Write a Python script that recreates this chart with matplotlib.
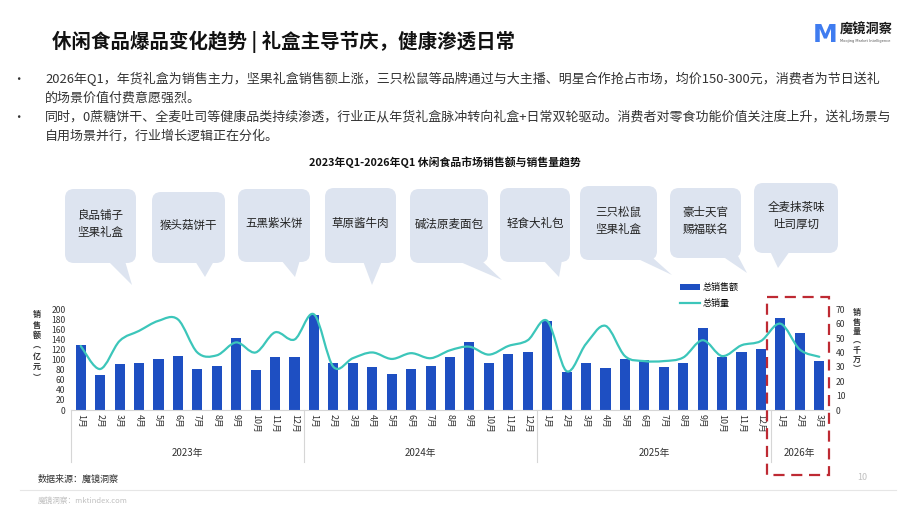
import numpy as np
import matplotlib.pyplot as plt
from matplotlib.path import Path
from matplotlib.patches import PathPatch, FancyBboxPatch, Polygon, Rectangle
from matplotlib.lines import Line2D

plt.rcParams['font.family'] = ['Noto Sans CJK SC', 'DejaVu Sans']

# ---- data ----
years = ['2023年', '2024年', '2025年', '2026年']
months_per_year = [12, 12, 12, 3]
month_labels = [f'{m}月' for n in months_per_year for m in range(1, n + 1)]

# 总销售额 (亿元)
sales = [129, 70, 91, 93, 101, 107, 81, 87, 143, 79, 105, 105,
         189, 93, 93, 85, 71, 81, 87, 105, 135, 93, 111, 115,
         177, 75, 93, 83, 101, 99, 85, 93, 163, 105, 115, 121,
         183, 153, 97]

# 总销量 (千万)
volume = [44.5, 28.5, 48, 55, 62, 63, 40, 38, 47, 40, 54, 49,
          66.5, 30, 36, 40, 35.5, 39.5, 36, 41.5, 44, 38.5, 44.5, 48.5,
          62, 27, 46, 58.5, 37.5, 34, 34, 36.5, 48.5, 37.5, 45, 48,
          60, 42, 37]

bubble_texts = ['良品铺子\n坚果礼盒', '猴头菇饼干', '五黑紫米饼', '草原酱牛肉', '碱法原麦面包',
                '轻食大礼包', '三只松鼠\n坚果礼盒', '豪士天官\n赐福联名', '全麦抹茶味\n吐司厚切']

title = '休闲食品爆品变化趋势 | 礼盒主导节庆，健康渗透日常'
bullet_lines = [
    '2026年Q1，年货礼盒为销售主力，坚果礼盒销售额上涨，三只松鼠等品牌通过与大主播、明星合作抢占市场，均价150-300元，消费者为节日送礼',
    '的场景价值付费意愿强烈。',
    '同时，0蔗糖饼干、全麦吐司等健康品类持续渗透，行业正从年货礼盒脉冲转向礼盒+日常双轮驱动。消费者对零食功能价值关注度上升，送礼场景与',
    '自用场景并行，行业增长逻辑正在分化。',
]
chart_title = '2023年Q1-2026年Q1 休闲食品市场销售额与销售量趋势'

BAR_COLOR = '#1E4FC2'
LINE_COLOR = '#3CC6BA'
GRID_GRAY = '#D6D6D6'

W, H = 916, 509
fig = plt.figure(figsize=(W / 100, H / 100), dpi=100)
fig.patch.set_facecolor('white')

# ---- main chart ----
ax = fig.add_axes([71 / W, (H - 410) / H, 758 / W, 100.7 / H])
x = np.arange(len(sales))
bars = ax.bar(x, sales, width=0.52, color=BAR_COLOR, zorder=2)
ax.set_xlim(-0.5, len(sales) - 0.5)
ax.set_ylim(0, 200)
ax.set_yticks(range(0, 201, 20))
ax.tick_params(axis='y', length=0, labelsize=6.2, pad=4, labelcolor='#333333')
ax.set_xticks(x)
ax.set_xticklabels(month_labels, rotation=270, fontsize=6.4, color='#333333')
ax.tick_params(axis='x', length=0, pad=3)
for s in ['top', 'left', 'right']:
    ax.spines[s].set_visible(False)
ax.spines['bottom'].set_color(GRID_GRAY)
ax.spines['bottom'].set_linewidth(0.8)

ax2 = ax.twinx()
ax2.set_ylim(0, 70)
ax2.set_yticks(range(0, 71, 10))
ax2.tick_params(axis='y', length=0, labelsize=6.2, pad=5, labelcolor='#333333')
for s in ['top', 'left', 'right', 'bottom']:
    ax2.spines[s].set_visible(False)

# smoothed line (Catmull-Rom -> cubic Bezier, like a spreadsheet smooth line)
pts = np.column_stack([x, volume]).astype(float)
verts = [pts[0]]
codes = [Path.MOVETO]
n = len(pts)
for i in range(n - 1):
    p0 = pts[max(i - 1, 0)]
    p1 = pts[i]
    p2 = pts[i + 1]
    p3 = pts[min(i + 2, n - 1)]
    c1 = p1 + (p2 - p0) / 6.0
    c2 = p2 - (p3 - p1) / 6.0
    verts += [c1, c2, p2]
    codes += [Path.CURVE4] * 3
ax2.add_patch(PathPatch(Path(verts, codes), facecolor='none', edgecolor=LINE_COLOR,
                        lw=1.6, zorder=3, capstyle='round', joinstyle='round'))

# year group separators and labels
xt = ax.get_xaxis_transform()
bounds = np.cumsum([0] + months_per_year) - 0.5
for b in bounds[:-1]:
    ax.plot([b, b], [0, -0.52], transform=xt, color=GRID_GRAY, lw=0.8, clip_on=False)
for yr, lo, hi in zip(years, bounds[:-1], bounds[1:]):
    ax.text((lo + hi) / 2, -0.43, yr, transform=xt, ha='center', va='center',
            fontsize=7, color='#333333')

# legend
ax.legend(handles=[bars, Line2D([], [], color=LINE_COLOR, lw=1.6)],
          labels=['总销售额', '总销量'], loc='upper left',
          bbox_to_anchor=(680 / W, (H - 283) / H), bbox_transform=fig.transFigure,
          frameon=False, fontsize=6.5, handlelength=2.2, handleheight=0.7,
          labelspacing=0.8, handletextpad=0.3, borderaxespad=0, borderpad=0)

# ---- overlay in pixel coordinates for page decorations ----
ov = fig.add_axes([0, 0, 1, 1])
ov.set_xlim(0, W)
ov.set_ylim(H, 0)
ov.axis('off')
ov.set_zorder(5)

ov.text(52, 42, title, fontsize=14, fontweight='bold', color='#111111', va='center')

# logo
ov.text(825, 35, 'M', fontsize=18, fontweight='bold', color='#3F7CF0', va='center',
        ha='center', family='DejaVu Sans')
ov.text(840, 30, '魔镜洞察', fontsize=9.5, fontweight='bold', color='#1A1A1A', va='center')
ov.text(840, 41, 'Moojing Market Intelligence', fontsize=2.6, color='#555555', va='center',
        family='DejaVu Sans')

line_y = [79, 98, 117, 136]
for i, (yy, s) in enumerate(zip(line_y, bullet_lines)):
    if i in (0, 2):
        ov.text(12, yy, '·', fontsize=9, color='#333333', va='center')
    ov.text(45, yy, s, fontsize=9.35, color='#333333', va='center')

ov.text(445, 162, chart_title, fontsize=7.8, fontweight='bold', color='#111111',
        ha='center', va='center')

# speech bubbles: box (x0, y0, x1, y1), tail base (b0, b1), tail tip (tx, ty)
bubbles = [
    (65, 189, 136, 263, 108, 125, 132, 285),
    (152, 192, 225, 263, 195, 214, 205, 277),
    (238, 189, 310, 262, 281, 300, 295, 277),
    (325, 188, 396, 263, 363, 382, 372, 285),
    (410, 189, 488, 263, 458, 482, 502, 280),
    (500, 188, 570, 262, 543, 562, 559, 277),
    (580, 186, 657, 260, 636, 653, 672, 275),
    (670, 188, 741, 258, 722, 738, 747, 273),
    (754, 183, 838, 253, 770, 790, 778, 268),
]
BUB = '#DDE4F0'
for (x0, y0, x1, y1, b0, b1, tx, ty), txt in zip(bubbles, bubble_texts):
    ov.add_patch(FancyBboxPatch((x0, y0), x1 - x0, y1 - y0,
                                boxstyle='round,pad=0,rounding_size=9',
                                facecolor=BUB, edgecolor='none'))
    ov.add_patch(Polygon([(b0, y1 - 2), (b1, y1 - 2), (tx, ty)], closed=True,
                         facecolor=BUB, edgecolor='none'))
    ov.text((x0 + x1) / 2, (y0 + y1) / 2 - 2, txt, fontsize=8.3, color='#222222',
            ha='center', va='center', linespacing=1.35)

# axis titles (stacked characters)
ov.text(37, 346, '销\n售\n额\n︵\n亿\n元\n︶', fontsize=5.8, fontweight='bold',
        color='#333333', ha='center', va='center', linespacing=1.2)
ov.text(857, 341, '销\n售\n量\n︵\n千\n万\n︶', fontsize=5.8, fontweight='bold',
        color='#333333', ha='center', va='center', linespacing=1.05)

# red dashed highlight around 2026
ov.add_patch(Rectangle((767, 297), 62, 178, facecolor='none', edgecolor='#BE2A33',
                       lw=1.6, linestyle=(0, (5, 3))))

# footer
ov.text(38, 479, '数据来源：魔镜洞察', fontsize=6.5, color='#333333', va='center')
ov.plot([20, 896], [490, 490], color='#E6E6E6', lw=0.8)
ov.text(38, 501, '魔镜洞察：mktindex.com', fontsize=5.5, color='#C0C0C0', va='center')
ov.text(862, 478, '10', fontsize=6.5, color='#C0C0C0', va='center', ha='center')

fig.savefig('out.png', dpi=100)
